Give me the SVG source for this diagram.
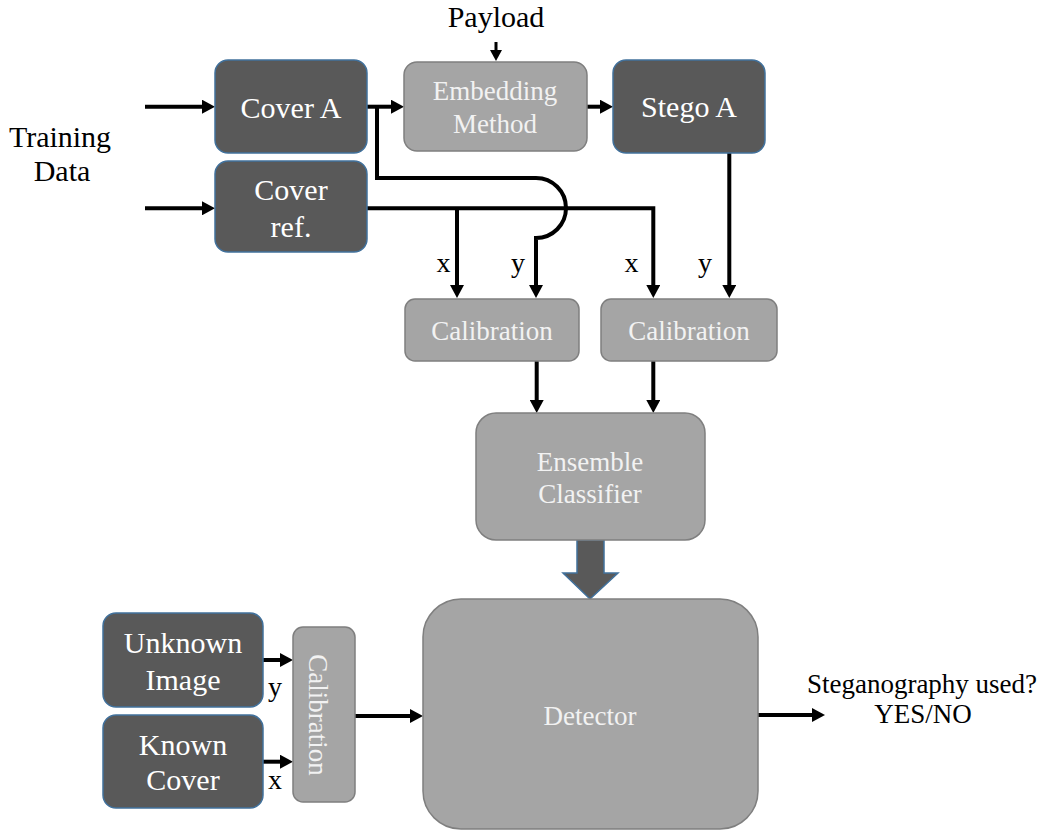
<svg xmlns="http://www.w3.org/2000/svg" width="1046" height="831" viewBox="0 0 1046 831" font-family="'Liberation Serif', 'Times New Roman', serif">
<defs>
<style>
.dark{fill:#595959;stroke:#41719C;stroke-width:1.5}
.gray{fill:#A5A5A5;stroke:#7F7F7F;stroke-width:1.5}
.wt{font-size:30px;fill:#FFFFFF;text-anchor:middle}
.gt{font-size:27px;fill:#F2F2F2;text-anchor:middle}
.bt{font-size:30px;fill:#000000;text-anchor:middle}
.lt{font-size:28px;fill:#000000;text-anchor:middle}
.ot{font-size:27px;fill:#000000;text-anchor:middle}
.c{fill:none;stroke:#000000;stroke-width:4;marker-end:url(#ah)}
.cs{fill:none;stroke:#000000;stroke-width:3;marker-end:url(#ahs)}
</style>
<marker id="ah" markerUnits="userSpaceOnUse" markerWidth="14" markerHeight="14" refX="3" refY="7" orient="auto">
<path d="M0,0 L13,7 L0,14 z" fill="#000000"/>
</marker>
<marker id="ahs" markerUnits="userSpaceOnUse" markerWidth="12" markerHeight="12" refX="3" refY="6" orient="auto">
<path d="M0,0 L11,6 L0,12 z" fill="#000000"/>
</marker>
</defs>
<rect width="1046" height="831" fill="#FFFFFF"/>

<g id="connectors">
<path class="c" d="M145,106.7 H205"/>
<path class="c" d="M145,208.3 H205"/>
<path class="cs" d="M496,42 V53"/>
<path class="c" d="M367,106.7 H394"/>
<path class="c" d="M587,106.7 H603"/>
<path class="c" d="M377,106.7 V178 H536 A30,30 0 0 1 536,238 V288"/>
<path class="c" d="M367,208.3 H653.3 V288"/>
<path class="c" d="M457,208.3 V288"/>
<path class="c" d="M729.3,153 V288"/>
<path class="c" d="M536.7,361 V403"/>
<path class="c" d="M653.3,361 V403"/>
<path class="c" d="M263,660 H283"/>
<path class="c" d="M263,761.7 H283"/>
<path class="c" d="M355,716 H413"/>
<path class="c" d="M758,715 H815"/>
<path d="M577,540 H604 V573 H618 L590,599 L563,573 H577 Z" fill="#595959" stroke="#41719C" stroke-width="1.5"/>
</g>

<g id="labels">
<text class="bt" x="496" y="27">Payload</text>
<text class="bt" x="60" y="147">Training</text>
<text class="bt" x="62" y="181">Data</text>
<text class="lt" x="443.5" y="272">x</text>
<text class="lt" x="518" y="272">y</text>
<text class="lt" x="631.5" y="272">x</text>
<text class="lt" x="705" y="272">y</text>
<text class="lt" x="275" y="696">y</text>
<text class="lt" x="275" y="789">x</text>
<text class="ot" x="922" y="693">Steganography used?</text>
<text class="ot" x="923" y="723">YES/NO</text>
</g>

<g id="cover-a">
<rect class="dark" x="215" y="60" width="152" height="93" rx="13"/>
<text class="wt" x="291" y="118">Cover A</text>
</g>
<g id="cover-ref">
<rect class="dark" x="215" y="161" width="152" height="91" rx="13"/>
<text class="wt" x="291" y="200">Cover</text>
<text class="wt" x="291" y="237">ref.</text>
</g>
<g id="embedding">
<rect class="gray" x="404" y="62" width="183" height="89" rx="13"/>
<text class="gt" x="495" y="100">Embedding</text>
<text class="gt" x="495" y="133">Method</text>
</g>
<g id="stego-a">
<rect class="dark" x="613" y="60" width="152" height="93" rx="13"/>
<text class="wt" x="689" y="117">Stego A</text>
</g>
<g id="calibration-1">
<rect class="gray" x="405" y="299" width="174" height="62" rx="10"/>
<text class="gt" x="492" y="340">Calibration</text>
</g>
<g id="calibration-2">
<rect class="gray" x="601" y="299" width="176" height="62" rx="10"/>
<text class="gt" x="689" y="340">Calibration</text>
</g>
<g id="ensemble">
<rect class="gray" x="476" y="413" width="229" height="127" rx="20"/>
<text class="gt" x="590" y="471">Ensemble</text>
<text class="gt" x="590" y="503">Classifier</text>
</g>
<g id="detector">
<rect class="gray" x="423" y="599" width="335" height="230" rx="38"/>
<text class="gt" x="590" y="725">Detector</text>
</g>
<g id="unknown-image">
<rect class="dark" x="103" y="613" width="160" height="94" rx="13"/>
<text class="wt" x="183" y="653">Unknown</text>
<text class="wt" x="183" y="690">Image</text>
</g>
<g id="known-cover">
<rect class="dark" x="103" y="715" width="160" height="93" rx="13"/>
<text class="wt" x="183" y="755">Known</text>
<text class="wt" x="183" y="790">Cover</text>
</g>
<g id="calibration-3">
<rect class="gray" x="293" y="627" width="62" height="175" rx="10"/>
<text class="gt" transform="translate(309,715) rotate(90)" x="0" y="0">Calibration</text>
</g>
</svg>
